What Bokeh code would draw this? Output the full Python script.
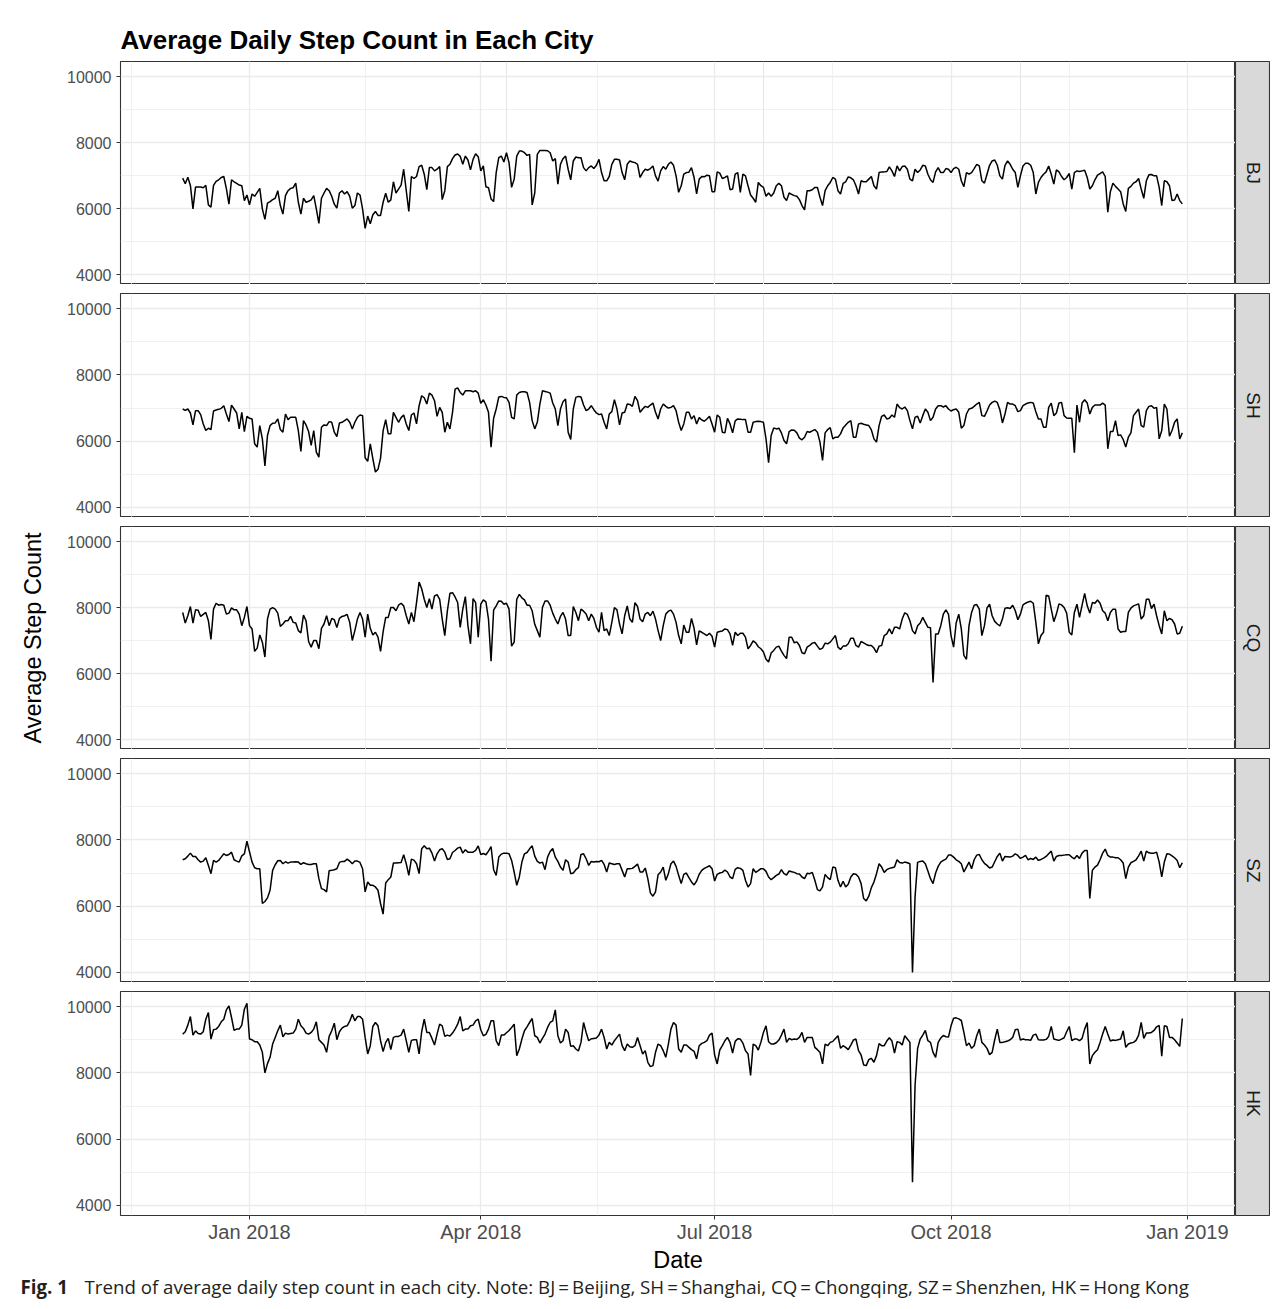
import numpy as np
import pandas as pd
from bokeh.plotting import figure
from bokeh.layouts import column, row
from bokeh.models import Range1d, FixedTicker, Grid
from bokeh.core.properties import value
from bokeh.embed import file_html
from bokeh.resources import INLINE

# ---------------- data (daily averages) ----------------
start_date = "2017-12-06"
cities = ["BJ", "SH", "CQ", "SZ", "HK"]

bj = [6920, 6750, 6950, 6700, 5990, 6650, 6650, 6650, 6630, 6700,
      6110, 6040, 6700, 6820, 6870, 6940, 6970, 6600, 6130, 6870,
      6810, 6760, 6710, 6690, 6240, 6410, 6110, 6440, 6370, 6490,
      6610, 5990, 5670, 6160, 6210, 6270, 6310, 6540, 6090, 5830,
      6390, 6540, 6610, 6630, 6770, 6190, 5830, 6310, 6190, 6220,
      6260, 6390, 5990, 5550, 6310, 6470, 6610, 6540, 6370, 6130,
      6010, 6470, 6540, 6440, 6510, 6370, 6010, 6090, 6470, 6410,
      5990, 5400, 5770, 5540, 5810, 5910, 5790, 5790, 6190, 6460,
      6190, 6260, 6810, 6470, 6590, 6710, 7190, 6540, 5910, 6970,
      6910, 6970, 7270, 7310, 7040, 6570, 7240, 7240, 7140, 7190,
      7270, 6270, 6540, 7270, 7340, 7510, 7620, 7650, 7580, 7340,
      7590, 7470, 7170, 7490, 7660, 7570, 7140, 7290, 6660, 6630,
      6290, 6210, 7090, 7540, 7590, 7410, 7690, 7390, 6640, 6890,
      7590, 7740, 7740, 7690, 7610, 7640, 6110, 6470, 7640, 7760,
      7760, 7760, 7750, 7690, 7440, 7510, 6740, 7340, 7510, 7590,
      7190, 6870, 7440, 7560, 7540, 7540, 7240, 7140, 7240, 7290,
      7210, 7310, 7490, 7090, 6840, 6840, 6970, 7340, 7490, 7490,
      7470, 7090, 6870, 7340, 7440, 7410, 7390, 7340, 6940, 7090,
      7190, 7160, 7210, 7290, 6990, 6830, 7140, 7270, 7190, 7340,
      7410, 7310, 6990, 6490, 6690, 7040, 7090,
      7100, 7240, 6940, 6440, 6890, 6970, 6960, 7010, 6990, 6510,
      6510, 7110, 7070, 6910, 6940, 6990, 6570, 6590, 7040, 7090,
      6490, 7040, 6990, 6690, 6410, 6310, 6190, 6790, 6690, 6640,
      6370, 6470, 6370, 6470, 6690, 6760, 6690, 6340, 6240, 6470,
      6430, 6390, 6370, 6270, 6090, 5960, 6540, 6540, 6570, 6640,
      6640, 6340, 6090, 6540, 6690, 6790, 6940, 6890, 6540, 6440,
      6760, 6810, 6960, 6930, 6870, 6690, 6440, 6840, 6810, 6810,
      6890, 6970, 6690, 6590, 7090, 7110, 7110, 7120, 7260, 7140,
      6970, 7290, 7140, 7270, 7290, 7190, 6890, 6840, 7190, 7090,
      7170, 7310, 7290, 7040, 6870, 6790, 7110, 7240, 7090, 7090,
      7210, 7190, 7090, 7210, 7250, 7190, 6840, 6660, 7090, 7040,
      7090, 7210, 7340, 7290, 6840, 6770, 7040, 7310, 7440, 7470,
      7310, 6990, 6890, 7310, 7440, 7340, 7190, 7090, 6640, 6990,
      7290, 7370, 7370, 7310, 7090, 6440, 6790, 6940, 7040, 7110,
      7290, 7040, 6740, 7170, 7110, 6970, 6870, 6940, 7060, 6590,
      7090, 7140, 7120, 7140, 7160, 6940, 6590, 6690, 6870, 7010,
      7060, 7110, 6970, 5890, 6510, 6770, 6670, 6590, 6510, 6140,
      5910, 6610, 6670, 6770, 6810, 6910, 6590, 6310, 6840, 7020,
      7030, 6990, 6990, 6640, 6090, 6840, 6810, 6690, 6240, 6260,
      6440, 6240, 6140]

sh = [6970, 6930, 6970, 6850, 6490, 6920, 6920, 6800, 6520, 6320,
      6390, 6350, 6910, 6940, 6960, 6990, 7070, 6820, 6590, 7090,
      6970, 6850, 6370, 6870, 6290, 6750, 6690, 6670, 5920, 5820,
      6470, 6070, 5250, 6170, 6470, 6540, 6550, 6670, 6350, 6270,
      6820, 6650, 6720, 6720, 6720, 6320, 5690, 6620, 6490, 6290,
      5870, 6320, 5670, 5520, 6420, 6490, 6470, 6590, 6570, 6270,
      6140, 6550, 6570, 6620, 6670, 6570, 6370, 6570, 6720, 6790,
      6770, 5500, 5390, 5920, 5470, 5070, 5150, 5490, 6320, 6650,
      6220, 6220, 6870, 6720, 6570, 6710, 6790, 6520, 6320, 6790,
      6850, 6520, 7070, 7370, 7310, 7120, 7450, 7390, 7220, 6750,
      7020, 6870, 6270, 6570, 6370, 6870, 7570, 7610, 7470, 7390,
      7520, 7520, 7520, 7490, 7520, 7450, 7140, 7250, 7090, 6870,
      5820, 6690, 6970, 7330, 7350, 7320, 7310, 7170, 6720, 6670,
      7390, 7470, 7490, 7490, 7470, 7170, 6620, 6370, 6570, 7120,
      7520, 7500, 7480, 7450, 7150, 6970, 6470, 6970, 7190, 7270,
      6270, 6050, 6970, 7320, 7350, 7330, 7090, 6920, 6970, 7070,
      6950, 6850, 6800, 6820, 6570, 6370, 6820, 6890, 7250, 6970,
      6490, 6850, 6870, 7120, 7110, 7050, 7350, 7220, 6870, 6970,
      7050, 7020, 7090, 7150, 6870, 6670, 6970, 7120, 7050, 7000,
      7020, 7070, 6920, 6570, 6320, 6520, 6870,
      6870, 6670, 6770, 6520, 6710, 6640, 6600, 6670, 6750, 6520,
      6270, 6790, 6720, 6270, 6250, 6690, 6520, 6250, 6610, 6670,
      6660, 6650, 6650, 6270, 6270, 6570, 6590, 6600, 6590, 6570,
      6070, 5350, 6170, 6400, 6370, 6390, 6250, 6020, 5920, 6290,
      6340, 6330, 6250, 6090, 6040, 6120, 6290, 6270, 6310, 6350,
      6270, 5970, 5420, 6250, 6350, 6410, 6070, 6120, 6120, 6220,
      6400, 6490, 6570, 6620, 6120, 6120, 6520, 6540, 6510, 6490,
      6470, 6340, 6070, 5970, 6470, 6750, 6790, 6670, 6690, 6790,
      6720, 7120, 7010, 6970, 7030, 6920, 6620, 6370, 6720, 6750,
      6550, 6770, 6970, 6870, 6620, 6720, 6970, 7070, 7070, 7030,
      7070, 6970, 6910, 6950, 6970, 6870, 6390, 6470, 6820, 6970,
      6990, 7050, 7120, 7170, 6770, 6750, 6910, 7090, 7170, 7210,
      7170, 6950, 6550, 6820, 7170, 7120, 7120, 7070, 6890, 6920,
      7070, 7120, 7150, 7170, 7150, 6890, 6670, 6670, 6420, 6420,
      7020, 7150, 6770, 6850, 7150, 7170, 6770, 6700, 6690, 6690,
      5650, 7090, 6570, 7150, 7250, 7150, 6820, 7020, 7090, 7090,
      7090, 7150, 7090, 5770, 6290, 6290, 6620, 6170, 6190, 6050,
      5820, 6120, 6250, 6770, 6870, 6970, 6470, 6420, 6920, 7050,
      7070, 6990, 7020, 6070, 6320, 7120, 6970, 6150, 6320, 6570,
      6670, 6070, 6250]

cq = [7850, 7530, 7750, 8030, 7530, 7930, 7920, 7730, 7790, 7850,
      7600, 7030, 7950, 8130, 8070, 8090, 8070, 7800, 7830, 7990,
      7930, 7930, 7800, 7450, 7700, 8030, 7450, 7350, 6670, 6770,
      7170, 6950, 6500, 7650, 7950, 8000, 7950, 7830, 7430, 7500,
      7600, 7600, 7730, 7550, 7530, 7300, 7230, 7770, 7600, 6970,
      6800, 7000, 7000, 6750, 7370, 7500, 7750, 7450, 7670, 7630,
      7390, 7670, 7730, 7750, 7790, 7550, 7000, 7300, 7650, 7850,
      7650, 7100, 7800, 7370, 7170, 7250, 7100, 6670, 7270, 7700,
      7700, 8000, 8000, 7900, 8070, 8130, 8050, 7750, 7500, 7850,
      7570, 8150, 8770, 8570, 8250, 8000, 8270, 7950, 8350, 8390,
      8250, 7650, 7150, 7900, 8430, 8450, 8320, 8150, 7400, 7950,
      8330, 7450, 6900, 8270, 8150, 7100, 8100, 8230, 8170, 7650,
      6370, 7920, 8050, 8200, 8190, 8100, 8130, 7950, 6830, 6950,
      8250, 8400, 8290, 8230, 8070, 8070, 7900, 7490, 7300, 7100,
      8000, 8200, 8200, 8070, 7830, 7650, 7500, 7730, 7850, 7650,
      7150, 7150, 8030, 7850, 7600, 7950, 7890, 7800, 7600, 7800,
      7670, 7400, 7250, 7850, 7300, 7350, 7150, 7550, 8000, 7930,
      7500, 7200, 7750, 8050, 7650, 7550, 8150, 8030, 7650, 7570,
      7800, 7850, 7750, 7890, 7650, 7300, 7000, 7450, 7800, 7890,
      7920, 7800, 7550, 7150, 6900, 7470, 7250,
      7250, 7670, 7370, 6870, 7290, 7250, 7200, 7150, 7220, 7130,
      6800, 7250, 7270, 7290, 7350, 7330, 7200, 6850, 7250, 7150,
      7220, 7220, 7100, 6750, 6850, 6990, 6930, 6810, 6750, 6650,
      6430, 6350, 6620, 6700, 6800, 6830, 6680, 6550, 6450, 7100,
      7100, 6930, 6960, 6850, 6630, 6600, 6800, 6850, 6920, 6940,
      6830, 6730, 6770, 6920, 6900, 6950, 7050, 7150, 6800, 6730,
      6830, 6830, 6900, 7070, 7070, 6850, 6800, 6970, 6930, 6880,
      6850, 6850, 6770, 6630, 6830, 6850, 7150, 7200, 7350, 7200,
      7400, 7400, 7350, 7650, 7840, 7790, 7600, 7300, 7200, 7450,
      7530, 7700, 7550, 7400, 7390, 5730, 7200, 7200, 7450, 7800,
      7930, 7800, 7150, 6800, 7530, 7800, 7350, 6550, 6430, 7450,
      7850, 8070, 8090, 7950, 7150, 7450, 7990, 8100, 7750, 7580,
      7500, 7440, 7650, 7980, 7990, 7970, 8070, 7900, 7630, 7800,
      8080, 8130, 8170, 8190, 8130, 7550, 6900, 7150, 7250, 8370,
      8350, 7950, 7570, 7800, 8110, 8080, 8000, 7830, 7250, 7170,
      7850, 8100, 7700, 8070, 8430, 8050, 7830, 8150, 8130, 8230,
      8130, 7900, 7830, 7600, 7850, 7950, 7950, 7350, 7250, 7270,
      7270, 7850, 7980, 8050, 8080, 8110, 7650, 7750, 8250, 8250,
      7970, 8100, 7750, 7450, 7200, 7900, 7600, 7670, 7630, 7500,
      7200, 7220, 7430]

sz = [7400, 7430, 7510, 7600, 7500, 7500, 7400, 7330, 7360, 7460,
      7230, 6980, 7380, 7330, 7380, 7480, 7580, 7530, 7560, 7630,
      7400, 7360, 7330, 7520, 7580, 7960, 7640, 7330, 7160, 7130,
      7130, 6080, 6140, 6250, 6480, 7080, 7250, 7370, 7380, 7280,
      7340, 7300, 7330, 7330, 7340, 7330, 7260, 7310, 7280, 7260,
      7260, 7280, 7280, 6830, 6530, 6500, 6430, 7070, 7080, 7100,
      7130, 7320, 7350, 7350, 7420, 7360, 7280, 7360, 7360, 7320,
      7130, 6430, 6730, 6630, 6630, 6580, 6480, 6080, 5760, 6700,
      6800, 6880, 7300, 7300, 7310, 7320, 7550, 7280, 6930, 7420,
      7390, 7280, 6980, 7730, 7820, 7730, 7750, 7600, 7360, 7580,
      7700, 7730, 7630, 7410, 7430, 7620, 7680, 7750, 7780, 7600,
      7700, 7630, 7630, 7630, 7680, 7820, 7560, 7590, 7550, 7660,
      7800, 7100, 6930, 7480, 7570, 7600, 7600, 7580, 7380, 7030,
      6630, 6880, 7330, 7580, 7620, 7730, 7820, 7510, 7350, 7300,
      7330, 7100, 7480, 7650, 7740, 7480, 7350, 7180, 7080, 7400,
      7330, 6980, 7000, 7100, 7160, 7560, 7580, 7430, 7230, 7350,
      7330, 7350, 7340, 7380, 7260, 7030, 7300, 7280, 7260, 7280,
      7280, 7080, 6880, 7130, 7130, 7140, 7200, 7270, 7030, 7030,
      7150, 6830, 6400, 6300, 6430, 6950, 7030, 7180, 6780, 6980,
      7280, 7360, 7200, 6930, 6680, 6960, 7000,
      6860, 6730, 6640, 6760, 6960, 7080, 7140, 7180, 7220, 7130,
      6760, 6960, 7000, 7020, 7090, 7030, 6880, 6830, 7110, 7160,
      7140, 7080, 6780, 6580, 6680, 7130, 7020, 7070, 7130, 7130,
      7050, 6880, 6800, 6860, 6930, 6970, 7100, 6980, 6940, 7060,
      7040, 7020, 6980, 6970, 6880, 6830, 6990, 6980, 7020, 6780,
      6500, 6460, 6580, 6960, 6860, 6800, 7180, 7160, 6780, 6580,
      6750, 6580, 6660, 6880, 6980, 6960, 6880, 6680, 6230, 6160,
      6300, 6560, 6730, 6980, 7280, 7180, 7020, 7100, 7140, 7160,
      7180, 7400, 7320, 7300, 7330, 7310, 7280, 4000, 6280, 7320,
      7350, 7360, 7280, 7060, 6830, 6680, 7000, 7200, 7330, 7380,
      7420, 7540, 7540, 7480, 7400, 7350, 7280, 7030, 7180, 7330,
      7130, 7400, 7540, 7560, 7400, 7290, 7230, 7150, 7180, 7340,
      7500, 7600, 7360, 7500, 7490, 7480, 7510, 7580, 7530, 7440,
      7480, 7530, 7400, 7440, 7410, 7480, 7380, 7410, 7450, 7500,
      7580, 7660, 7360, 7500, 7530, 7530, 7540, 7550, 7550, 7480,
      7430, 7530, 7440, 7600, 7680, 7680, 6230, 7080, 7180, 7240,
      7400, 7600, 7720, 7530, 7480, 7480, 7460, 7460, 7400, 7300,
      6830, 7180, 7310, 7350, 7400, 7520, 7660, 7360, 7660, 7610,
      7600, 7600, 7630, 7330, 6880, 7330, 7580, 7570, 7520, 7460,
      7380, 7160, 7310]

hk = [9170, 9240, 9440, 9700, 9140, 9270, 9190, 9170, 9240, 9620,
      9820, 9020, 9300, 9320, 9400, 9540, 9620, 9900, 10020, 9670,
      9280, 9320, 9320, 9440, 9920, 10100, 9020, 9000, 8940, 8940,
      8840, 8620, 8000, 8280, 8470, 8870, 9070, 9270, 9440, 9090,
      9200, 9170, 9190, 9200, 9320, 9620, 9420, 9340, 9200, 9170,
      9220, 9320, 9540, 9000, 8920, 8840, 8620, 9100, 9270, 9500,
      9000, 9240, 9350, 9400, 9420, 9560, 9770, 9570, 9700, 9700,
      9620, 9070, 8570, 8820, 9400, 9520, 9420, 8970, 8640, 8920,
      9040, 8700, 9070, 9100, 9100, 9140, 9320, 8970, 8620, 8980,
      9000, 9000, 8570, 9240, 9620, 9220, 9220, 9040, 8840, 9170,
      9470, 9420, 9100, 9140, 9110, 9200, 9320, 9470, 9700, 9270,
      9320, 9320, 9420, 9440, 9570, 9620, 9300, 9120, 9160, 9320,
      9570, 9570, 8970, 8820, 9140, 9140, 9210, 9280, 9370, 9470,
      8520, 8720, 9020, 9270, 9390, 9520, 9640, 9120, 9070, 8900,
      9040, 9170, 9370, 9520, 9570, 9900, 9120, 8900, 8970, 9320,
      9220, 8800, 8820, 8720, 8660, 8920, 9520, 9220, 8970, 9030,
      9040, 9050, 9140, 9320, 9070, 8720, 8920, 8840, 8970, 9070,
      9170, 8820, 8670, 8870, 8790, 8770, 8820, 9070, 8820, 8570,
      8670, 8320, 8190, 8220, 8620, 8870, 8820, 8670, 8470, 8870,
      9320, 9520, 9440, 8720, 8620, 8840, 8840,
      8770, 8700, 8650, 8420, 8820, 8890, 8920, 8970, 9140, 9200,
      8540, 8270, 8690, 8820, 8970, 9070, 8920, 8600, 8950, 9030,
      9020, 8900, 8670, 8570, 7920, 8870, 8820, 8690, 8920, 9220,
      9420, 8940, 8870, 8870, 8910, 8990, 9140, 9320, 8920, 9040,
      9000, 9020, 9010, 9070, 9220, 8920, 9070, 9070, 9070, 8770,
      8700, 8620, 8270, 8870, 8820, 8920, 8950, 9040, 9120, 8740,
      8820, 8770, 8700, 8840, 8990, 9020, 8670, 8540, 8240, 8220,
      8400, 8440, 8320, 8520, 8880, 8820, 8820, 8960, 9060, 8960,
      8600, 8940, 8920, 8840, 9120, 9020, 8920, 4700, 7620, 8740,
      9020, 9140, 9280, 8970, 8920, 8620, 8470, 8920, 9050, 9130,
      9090, 9080, 9420, 9650, 9660, 9630, 9580, 9220, 8820, 8900,
      8740, 8820, 9120, 9320, 8920, 8840, 8740, 8550, 8620, 9000,
      9320, 8920, 8920, 8940, 8960, 9000, 9070, 9300, 9320, 8990,
      9020, 9000, 9000, 8980, 9140, 9170, 9000, 8990, 8990, 9010,
      9100, 9400, 9020, 9000, 8980, 9020, 9060, 9240, 9400, 8970,
      9020, 9020, 8970, 9040, 9320, 9520, 8270, 8520, 8620, 8700,
      8920, 9170, 9400, 9170, 8960, 8990, 8980, 9000, 9020, 9270,
      8770, 8870, 8900, 8920, 8980, 9140, 9520, 9040, 9200, 9200,
      9220, 9280, 9390, 9430, 8500, 9420, 9400, 9070, 9070, 9000,
      8900, 8800, 9640]

series = {"BJ": bj, "SH": sh, "CQ": cq, "SZ": sz, "HK": hk}

x_tick_dates = ["2018-01-01", "2018-04-01", "2018-07-01", "2018-10-01", "2019-01-01"]
x_tick_labels = ["Jan 2018", "Apr 2018", "Jul 2018", "Oct 2018", "Jan 2019"]
y_ticks = [4000, 6000, 8000, 10000]
y_tick_labels = ["4000", "6000", "8000", "10000"]
y_minor = [5000, 7000, 9000]

title_text = "Average Daily Step Count in Each City"
caption_bold = "Fig. 1"
caption_text = ("Trend of average daily step count in each city. Note: BJ\u2009=\u2009Beijing, "
                "SH\u2009=\u2009Shanghai, CQ\u2009=\u2009Chongqing, SZ\u2009=\u2009Shenzhen, "
                "HK\u2009=\u2009Hong Kong")

# ---------------- helpers ----------------
origin = pd.Timestamp("2018-01-01")
dates = pd.date_range(start_date, periods=len(bj), freq="D")
xs = np.asarray((dates - origin).days, dtype=float)
x_ticks = [float((pd.Timestamp(d) - origin).days) for d in x_tick_dates]
x_minor = [x_ticks[0] - 46] + [(a + b) / 2 for a, b in zip(x_ticks[:-1], x_ticks[1:])]

FONT = "Liberation Sans"
GRID = "#EBEBEB"
DARK = "#333333"

xr = Range1d(-50.2, 383.7)
yr = Range1d(3697, 10455)

LEFT = 120
FRAME_W = 1115
STRIP_W = 35


def hide_grids(fig):
    for g in fig.xgrid + fig.ygrid:
        g.visible = False


def make_panel(name, vals, top, frame_h, bottom, last=False, ylabel=None, title=None):
    h = top + frame_h + bottom
    p = figure(width=LEFT + FRAME_W, height=h, x_range=xr, y_range=yr,
               output_backend="svg", toolbar_location=None,
               x_axis_location="below" if last else None,
               min_border_left=LEFT, min_border_right=0,
               min_border_top=top, min_border_bottom=bottom)
    p.background_fill_color = "white"
    p.border_fill_color = "white"
    p.outline_line_color = DARK
    p.outline_line_width = 1.1

    xt = FixedTicker(ticks=x_ticks, minor_ticks=x_minor)
    if not last:
        p.add_layout(Grid(dimension=0, ticker=xt, grid_line_color=GRID, grid_line_width=1.3,
                          minor_grid_line_color=GRID, minor_grid_line_width=0.7))
    else:
        ax = p.xaxis[0]
        ax.ticker = xt
        ax.major_label_overrides = {t: l for t, l in zip(x_ticks, x_tick_labels)}
        ax.axis_line_color = None
        ax.major_tick_line_color = DARK
        ax.major_tick_out = 4
        ax.major_tick_in = 0
        ax.minor_tick_out = 0
        ax.minor_tick_in = 0
        ax.major_label_text_font = FONT
        ax.major_label_text_font_size = "20px"
        ax.major_label_text_color = "#4D4D4D"
        ax.major_label_standoff = 1
        ax.axis_label = "Date"
        ax.axis_label_text_font = FONT
        ax.axis_label_text_font_size = "23.5px"
        ax.axis_label_text_font_style = "normal"
        ax.axis_label_text_color = "black"
        ax.axis_label_standoff = 1
        p.xgrid.ticker = xt
        p.xgrid.grid_line_color = GRID
        p.xgrid.grid_line_width = 1.3
        p.xgrid.minor_grid_line_color = GRID
        p.xgrid.minor_grid_line_width = 0.7

    yt = FixedTicker(ticks=y_ticks, minor_ticks=y_minor)
    ya = p.yaxis[0]
    ya.ticker = yt
    ya.major_label_overrides = {t: l for t, l in zip(y_ticks, y_tick_labels)}
    ya.axis_line_color = None
    ya.major_tick_line_color = DARK
    ya.major_tick_out = 4
    ya.major_tick_in = 0
    ya.minor_tick_out = 0
    ya.minor_tick_in = 0
    ya.major_label_text_font = FONT
    ya.major_label_text_font_size = "16px"
    ya.major_label_text_color = "#4D4D4D"
    ya.major_label_standoff = 5
    if ylabel:
        ya.axis_label = ylabel
        ya.axis_label_text_font = FONT
        ya.axis_label_text_font_size = "23.5px"
        ya.axis_label_text_font_style = "normal"
        ya.axis_label_text_color = "black"
        ya.axis_label_standoff = 18
    p.ygrid.ticker = yt
    p.ygrid.grid_line_color = GRID
    p.ygrid.grid_line_width = 1.3
    p.ygrid.minor_grid_line_color = GRID
    p.ygrid.minor_grid_line_width = 0.7

    if title:
        p.title.text = title
        p.title.text_font = FONT
        p.title.text_font_size = "26px"
        p.title.text_font_style = "bold"
        p.title.text_color = "black"
        p.title.align = "left"
        p.title.standoff = 13

    p.line(xs, vals, line_color="black", line_width=1.5)

    s = figure(width=STRIP_W, height=h, x_range=(0, 1), y_range=(0, 1),
               output_backend="svg", toolbar_location=None,
               x_axis_location=None, y_axis_location=None,
               min_border_left=0, min_border_right=0,
               min_border_top=top, min_border_bottom=bottom)
    hide_grids(s)
    s.background_fill_color = "#D9D9D9"
    s.border_fill_color = "white"
    s.outline_line_color = DARK
    s.outline_line_width = 1.1
    s.text(x=[0.5], y=[0.5], text=[name], angle=-np.pi / 2,
           text_align="center", text_baseline="middle",
           text_font=value(FONT), text_font_size="19px", text_color="#1A1A1A")
    return row(p, s, spacing=0)


rows = [
    make_panel("BJ", series["BJ"], 61, 223, 0, title=title_text),
    make_panel("SH", series["SH"], 9, 224, 0),
    make_panel("CQ", series["CQ"], 9, 223, 0, ylabel="Average Step Count"),
    make_panel("SZ", series["SZ"], 9, 224, 0),
    make_panel("HK", series["HK"], 9, 224, 60, last=True),
]

CW = LEFT + FRAME_W + STRIP_W
CAP_H = 30
cap = figure(width=CW, height=CAP_H, x_range=(0, CW), y_range=(0, CAP_H),
             output_backend="svg", toolbar_location=None,
             x_axis_location=None, y_axis_location=None,
             min_border_left=0, min_border_right=0, min_border_top=0, min_border_bottom=0)
hide_grids(cap)
cap.outline_line_color = None
cap.border_fill_color = "white"
cap.text(x=[20], y=[CAP_H - 11], text=[caption_bold], text_baseline="middle",
         text_font=value("Open Sans"), text_font_style="bold",
         text_font_size="18.7px", text_color="#231F20")
cap.text(x=[84], y=[CAP_H - 11], text=[caption_text], text_baseline="middle",
         text_font=value("Open Sans"), text_font_size="18.7px", text_color="#231F20")

layout = column(*rows, cap, spacing=0)

open("out.html", "w").write(file_html(layout, INLINE))
